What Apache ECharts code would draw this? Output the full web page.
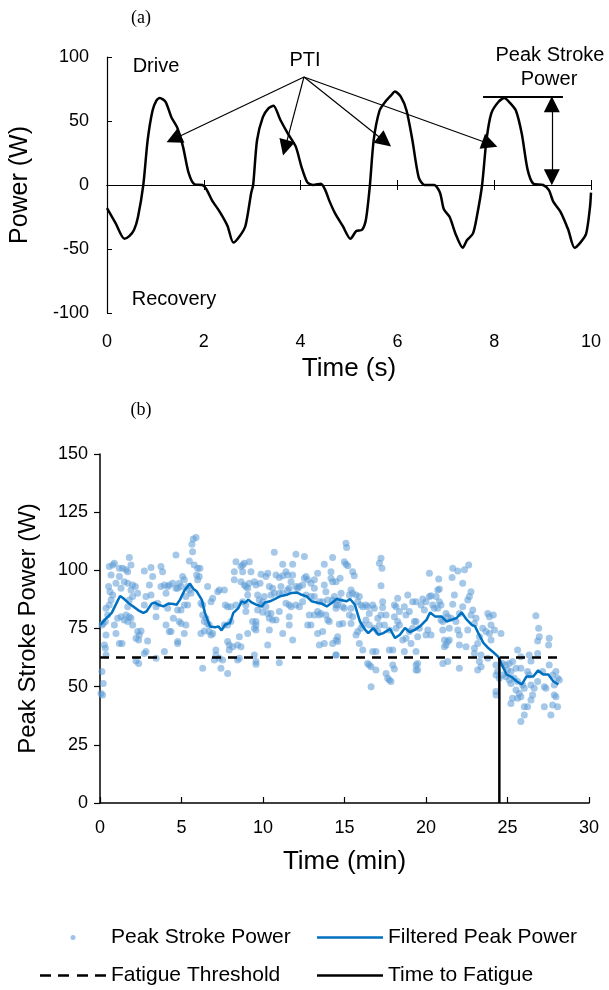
<!DOCTYPE html>
<html>
<head>
<meta charset="utf-8">
<script src="https://cdn.jsdelivr.net/npm/echarts@6/dist/echarts.min.js"></script>
<style>
  html, body { margin: 0; padding: 0; background: #fff; }
  #chart { width: 609px; height: 990px; }
</style>
</head>
<body>
<div id="chart"></div>
<script>
// (a) instantaneous power trace, [time s, power W]
var powerWave = [
  [0,-18],[0.18,-30],[0.36,-42],[0.46,-40],[0.56,-35],[0.64,-25],[0.75,0],[0.84,35],[0.94,58],[1.02,66],
  [1.09,68],[1.21,65],[1.33,53],[1.45,45],[1.57,30],[1.69,9],[1.81,0.5],[1.97,0],[2.05,-3],[2.17,-12],
  [2.33,-21],[2.49,-32],[2.61,-45],[2.74,-40],[2.86,-32],[2.98,-6],[3.02,0],[3.10,35],[3.22,53],[3.34,60],
  [3.44,62],[3.58,51],[3.74,40],[3.90,30],[4.02,14],[4.14,2],[4.26,0],[4.42,1],[4.51,-4],[4.59,-12],
  [4.71,-22],[4.87,-32],[5.03,-42],[5.15,-36],[5.27,-35],[5.35,-27],[5.43,-1],[5.51,35],[5.63,58],[5.75,65],
  [5.87,70],[5.95,73],[6.07,69],[6.19,58],[6.31,35],[6.44,6],[6.56,0],[6.76,0],[6.88,-6],[6.96,-19],
  [7.08,-25],[7.20,-38],[7.35,-49],[7.44,-43],[7.56,-38],[7.64,-25],[7.75,0],[7.84,35],[7.94,56],[8.09,65],
  [8.21,68],[8.33,64],[8.45,58],[8.57,40],[8.69,12],[8.81,1],[9.01,0],[9.13,-4],[9.22,-13],[9.37,-21],
  [9.53,-35],[9.66,-49],[9.78,-45],[9.90,-38],[9.98,-17],[10,-6]
];

// (b) peak stroke power per stroke, [time min, power W]
var strokes0 = [
  [0.12,76.5],[0.20,77.2],[0.33,78.0],[0.47,80.8],[0.37,83.7],[0.57,85.1],[0.68,87.3],[0.78,89.4],[0.53,93.0],[0.61,90.8],
  [0.68,98.0],[0.57,101.6],[0.78,102.3],[0.88,103.0],[1.19,100.9],[1.19,97.3],[0.98,94.4],[1.29,92.3],[1.39,100.9],[1.60,100.2],
  [1.70,99.4],[1.80,105.5],[1.90,102.3],[1.49,95.1],[1.70,94.4],[2.00,93.7],[1.90,91.6],[2.17,93.0],[2.31,90.1],[2.00,88.7],
  [1.80,87.3],[1.70,84.4],[1.60,80.8],[1.49,78.7],[1.70,78.0],[1.80,80.1],[1.90,79.4],[1.29,80.1],[1.08,79.4],[0.88,76.5],
  [0.98,72.9],[0.37,72.2],[0.27,67.9],[0.33,66.5],[0.37,63.6],[1.19,68.6],[1.35,68.6],[2.00,76.5],[2.31,73.7],[2.41,72.2],
  [2.52,73.9],[2.21,70.8],[2.37,70.1],[2.92,69.6],[2.82,65.1],[2.72,64.3],[2.21,61.0],[2.37,60.0],[2.72,85.1],[2.82,88.7],
  [3.13,89.4],[3.03,93.7],[3.13,101.2],[2.72,99.7],[3.23,97.3],[3.44,84.4],[3.54,85.8],[3.44,80.1],[3.74,101.6],[3.84,99.4],
  [3.74,93.0],[3.95,93.7],[4.05,90.1],[4.15,93.0],[4.25,93.7],[4.46,94.4],[4.66,92.3],[4.66,106.6],[4.15,83.7],[4.05,76.5],
  [4.25,73.7],[4.36,73.7],[4.50,79.4],[3.95,65.1],[3.44,62.2],[4.77,69.4],[0.12,56.5],[0.20,51.4],[0.16,46.4],[0.06,47.1]
];
var strokes5 = [
  [5.89,114.1],[5.72,113.5],[5.64,111.2],[5.68,108.0],[5.48,104.0],[5.78,102.3],[5.99,100.9],[6.13,100.9],[5.93,98.0],[6.09,97.3],
  [5.99,95.9],[5.07,97.3],[5.17,95.9],[4.86,94.4],[4.76,92.3],[4.97,93.0],[5.38,93.0],[5.58,90.1],[5.48,91.6],[5.27,88.7],
  [5.17,85.1],[5.38,85.1],[4.97,83.0],[4.76,83.0],[4.86,78.0],[4.97,77.2],[5.27,76.5],[5.17,72.9],[4.76,68.6],[6.19,85.8],
  [6.30,85.1],[6.30,80.8],[6.40,78.0],[6.50,79.4],[6.60,77.2],[6.70,76.5],[6.60,93.0],[6.81,86.5],[6.91,88.0],[6.70,73.7],
  [6.81,72.2],[6.91,72.9],[6.40,73.9],[6.19,72.9],[7.32,91.6],[7.22,90.8],[7.63,91.6],[7.69,85.1],[7.83,84.4],[8.03,84.4],
  [8.03,78.0],[7.83,76.5],[7.63,76.5],[7.83,69.4],[7.93,67.9],[7.93,65.8],[8.14,67.2],[7.11,65.8],[7.11,63.6],[7.01,61.5],
  [7.32,62.2],[7.52,61.5],[7.42,57.9],[7.83,55.7],[6.30,57.9],[8.44,67.9],[8.65,67.2],[8.55,71.5],[8.44,61.5],[8.34,103.7],
  [8.24,99.4],[8.24,95.9],[8.65,101.6],[8.75,102.3],[8.85,103.0],[9.16,103.7],[9.26,99.4],[8.75,99.4],[8.65,95.1],[8.85,93.7],
  [8.95,93.0],[9.06,92.3],[9.16,94.4],[9.47,95.1],[9.57,93.7],[9.06,89.4],[8.95,85.1],[8.95,82.3],[9.36,78.0],[9.47,75.1],
  [9.57,76.5],[9.06,72.9],[9.47,63.6],[9.57,60.8],[8.55,62.2],[8.34,85.1],[8.75,86.5]
];
var strokes10 = [
  [10.69,107.8],[12.02,106.9],[12.54,105.9],[11.21,102.6],[11.82,102.6],[11.41,99.4],[11.51,98.0],[11.21,97.7],[11.00,96.9],[10.80,98.0],
  [10.29,98.7],[10.18,97.3],[9.88,98.3],[9.82,94.4],[10.39,93.0],[10.59,92.3],[10.69,90.1],[10.49,89.4],[10.08,88.7],[9.67,89.4],
  [9.77,87.3],[9.98,86.5],[9.88,85.1],[10.18,84.4],[9.67,83.0],[9.98,82.0],[10.29,81.5],[10.49,81.5],[10.39,79.4],[10.59,78.7],
  [10.80,78.7],[11.00,82.3],[11.00,90.1],[11.21,90.1],[11.10,93.0],[11.51,91.6],[11.61,92.3],[11.72,95.1],[11.82,98.0],[12.02,93.0],
  [12.13,92.3],[12.23,93.0],[12.43,93.7],[12.54,96.6],[12.64,97.3],[12.74,95.9],[12.94,94.4],[13.15,95.9],[13.15,92.3],[13.35,98.7],
  [13.76,102.6],[14.27,105.5],[14.17,99.4],[14.17,96.6],[14.27,95.1],[13.76,93.7],[13.86,90.8],[13.97,87.3],[13.66,86.5],[13.46,86.5],
  [13.15,88.7],[12.94,88.7],[12.64,89.4],[12.43,86.5],[12.23,84.4],[12.02,85.1],[11.61,85.1],[11.41,85.8],[11.72,84.4],[11.61,80.1],
  [11.61,76.5],[11.82,70.1],[11.21,72.9],[10.39,74.4],[10.29,67.9],[9.57,78.0],[9.57,74.4],[13.35,82.3],[13.15,80.8],[12.84,80.8],
  [12.94,76.5],[12.74,76.5],[13.46,80.8],[13.56,81.5],[13.86,80.8],[13.97,78.7],[14.07,78.0],[13.35,72.9],[13.66,73.7],[13.46,67.9],
  [13.76,68.6],[14.27,68.6],[14.48,70.1],[14.48,63.6],[11.00,60.3],[9.57,59.6],[14.27,87.3],[14.48,85.1],[14.38,88.7]
];
var strokes15 = [
  [15.09,111.6],[15.13,109.8],[14.99,103.7],[15.09,102.6],[15.20,102.0],[14.73,96.6],[14.48,95.1],[15.50,99.4],[15.60,97.7],[17.24,105.2],
  [17.14,103.0],[17.30,100.9],[17.24,93.4],[15.40,91.6],[15.50,90.1],[15.30,89.4],[15.71,89.4],[15.91,88.7],[14.79,90.1],[14.68,87.3],
  [14.58,85.1],[14.48,83.7],[14.89,84.4],[14.99,83.7],[15.40,83.7],[15.30,80.8],[15.50,80.1],[15.40,77.2],[14.89,77.2],[14.68,76.8],
  [15.81,86.5],[16.01,85.1],[16.12,84.4],[16.32,85.1],[16.42,84.4],[16.73,85.1],[16.83,83.7],[16.52,81.5],[16.32,78.7],[16.12,76.5],
  [16.01,75.1],[15.81,73.7],[15.71,72.2],[15.91,68.6],[16.12,65.8],[16.52,76.5],[16.83,75.1],[17.04,73.7],[17.34,86.5],[17.34,84.0],
  [17.24,80.8],[17.04,79.4],[17.14,76.5],[17.55,80.8],[17.45,76.5],[17.75,74.4],[18.06,85.1],[18.16,84.4],[18.26,88.0],[18.37,82.3],
  [18.06,80.1],[18.26,78.0],[18.37,76.5],[18.16,75.1],[18.67,84.4],[18.88,89.4],[18.77,80.8],[18.98,82.3],[19.18,86.5],[19.29,78.0],
  [19.18,75.1],[18.98,73.7],[18.77,70.8],[18.57,70.1],[18.67,65.1],[19.08,68.6],[17.75,65.8],[17.96,65.8],[17.55,55.7],[17.65,53.6],
  [17.75,52.9],[17.85,52.2],[18.06,57.6],[17.96,59.3],[16.93,65.1],[16.73,65.1],[16.93,57.2],[16.63,58.6],[16.52,59.3],[16.42,60.0],
  [16.63,50.0],[19.39,59.3],[19.39,57.2],[14.58,71.5],[14.58,69.4],[14.48,63.6]
];
var strokes20 = [
  [20.21,98.7],[20.78,96.3],[21.64,100.9],[21.95,99.7],[22.36,100.2],[22.62,102.3],[21.60,96.9],[22.25,94.4],[20.72,91.6],[20.82,92.0],
  [20.62,88.7],[20.31,89.1],[20.21,88.7],[19.80,87.7],[19.70,85.1],[19.90,83.0],[20.00,86.5],[20.41,85.1],[20.51,83.7],[20.82,86.5],
  [20.92,85.1],[20.72,83.7],[21.74,89.4],[21.64,85.4],[22.25,84.4],[22.56,87.3],[22.66,88.7],[22.76,90.8],[22.87,83.0],[22.76,80.8],
  [23.07,79.4],[22.97,77.2],[19.39,86.5],[19.39,78.0],[19.59,75.1],[19.49,71.5],[20.11,74.4],[20.00,72.2],[20.31,72.2],[20.92,78.7],
  [21.03,78.0],[21.23,81.5],[21.33,80.1],[21.54,79.4],[21.84,78.0],[22.05,81.5],[21.95,74.4],[22.05,72.2],[21.43,75.1],[21.03,74.4],
  [21.13,70.1],[21.33,69.4],[21.43,70.1],[21.23,67.9],[21.13,67.2],[22.05,67.9],[22.46,67.2],[22.56,74.4],[23.48,75.1],[23.68,73.7],
  [23.79,81.5],[23.89,80.1],[23.99,76.5],[23.89,72.9],[23.99,70.1],[24.20,74.4],[23.28,71.5],[23.17,68.6],[22.97,66.5],[23.38,63.6],
  [23.28,60.8],[23.79,62.2],[22.97,64.3],[23.17,57.2],[23.38,58.6],[19.39,65.1],[19.49,60.0],[19.49,57.2],[21.03,60.0],[21.33,60.8],
  [22.05,57.9],[24.30,55.0],[24.30,46.4],[24.13,80.8]
];
var strokes25 = [
  [26.74,80.5],[26.91,75.1],[26.95,71.5],[26.85,69.6],[27.56,70.8],[27.52,67.9],[24.60,72.9],[25.62,65.8],[25.82,62.9],[26.33,63.6],
  [26.85,64.3],[26.44,61.0],[24.29,59.3],[24.39,56.5],[24.70,60.0],[24.90,59.3],[25.11,60.0],[25.31,60.8],[25.01,57.2],[24.70,55.0],
  [24.90,54.3],[25.21,56.5],[25.52,57.9],[25.82,57.9],[25.41,53.6],[25.11,52.9],[25.21,51.4],[25.62,52.2],[25.93,50.7],[26.03,49.3],
  [26.23,56.5],[26.33,55.0],[26.44,50.7],[26.64,49.3],[26.85,52.2],[27.15,56.5],[27.26,50.0],[27.36,49.3],[27.56,59.3],[27.77,55.0],
  [27.97,56.5],[27.87,50.7],[28.07,53.6],[28.18,52.9],[25.52,48.6],[25.72,47.1],[25.82,45.7],[25.62,45.0],[25.31,45.0],[25.21,42.8],
  [26.54,46.4],[26.44,44.3],[26.03,41.4],[26.23,41.4],[26.03,37.8],[27.26,41.4],[27.66,37.8],[27.87,46.4],[27.77,42.1],[27.97,45.7],
  [28.07,41.4],[25.82,35.0],[24.29,47.9],[24.49,53.6]
];
var peakStrokes = strokes0.concat(strokes5, strokes10, strokes15, strokes20, strokes25);

// filtered peak power, [time min, power W]
var filteredPower = [
  [0.04,76.6],[0.30,78.8],[0.72,81.7],[1.02,86.0],[1.23,89.0],[1.43,88.0],[1.74,86.0],[2.04,84.5],[2.35,82.8],[2.66,81.7],
  [2.86,82.4],[3.17,85.7],[3.37,86.2],[3.58,85.2],[3.89,84.5],[4.19,85.7],[4.50,85.5],[4.70,85.2],[4.91,87.4],[5.21,91.7],
  [5.52,94.3],[5.73,92.0],[5.93,91.0],[6.24,87.4],[6.44,81.7],[6.75,75.9],[7.06,75.5],[7.26,75.9],[7.46,74.2],[7.67,76.6],
  [7.98,77.4],[8.18,81.7],[8.49,83.8],[8.69,86.7],[8.90,86.0],[9.10,87.4],[9.30,86.2],[9.61,85.2],[9.92,84.5],[10.12,86.2],
  [10.43,86.7],[10.74,87.7],[11.04,88.8],[11.45,89.5],[11.76,90.3],[12.07,90.5],[12.37,89.5],[12.68,88.8],[12.99,86.7],[13.29,86.2],
  [13.60,85.7],[13.91,84.5],[14.21,86.0],[14.52,87.7],[14.83,87.1],[15.13,86.7],[15.34,87.7],[15.64,85.2],[15.95,78.0],[16.26,74.5],
  [16.46,73.0],[16.77,75.2],[17.08,72.3],[17.38,73.0],[17.79,74.8],[18.10,70.9],[18.40,72.3],[18.71,75.2],[19.02,73.4],[19.33,74.5],
  [19.63,75.9],[20.04,78.8],[20.25,81.9],[20.55,80.2],[20.96,80.2],[21.27,78.0],[21.58,78.8],[21.88,79.5],[22.19,81.9],[22.50,78.8],
  [22.81,76.6],[23.01,75.9],[23.21,73.0],[23.52,68.8],[23.82,66.6],[24.13,64.8],[24.44,62.8],[24.70,58.7],[24.95,55.2],[25.25,54.2],
  [25.56,52.3],[25.87,50.9],[26.17,54.4],[26.58,54.4],[26.88,57.0],[27.19,55.2],[27.50,55.2],[27.81,52.3],[28.12,50.9]
];

var fatigueThreshold = [[0, 62.5], [28.2, 62.5]];
var timeToFatigue = [[24.5, 62.5], [24.5, 0]];

var FONT = "'Liberation Sans', Arial, Helvetica, sans-serif";
// legend icons: path bbox padded with moveTo points so the mark keeps its size
var dotIcon = 'path://M0,0M66,14M30.5,7a2.5,2.5 0 1,0 5,0a2.5,2.5 0 1,0 -5,0';
var solidIcon = 'path://M0,0M66,14M0,5.8H66V8.2H0Z';
var dashIcon = 'path://M0,0M66,14M0,5.8H11V8.2H0ZM18,5.8H29V8.2H18ZM37,5.8H48V8.2H37ZM55,5.8H66V8.2H55Z';

function txt(x, y, s, size, family) {
  return {
    type: 'text', x: x, y: y, silent: true,
    style: { text: s, fill: '#000', font: size + 'px ' + (family || FONT), align: 'center', verticalAlign: 'middle' }
  };
}

function legendAt(left, top, item) {
  return {
    left: left, top: top, itemWidth: 66, itemHeight: 14, selectedMode: false,
    textStyle: { fontSize: 21, color: '#000' },
    data: [item]
  };
}

var myChart = echarts.init(document.getElementById('chart'), null, { renderer: 'canvas' });

var option = {
  animation: false,
  backgroundColor: '#fff',
  textStyle: { fontFamily: FONT, color: '#000' },
  grid: [
    { left: 107, top: 57, width: 484, height: 256 },
    { left: 100, top: 454, width: 489, height: 349 }
  ],
  xAxis: [
    {
      gridIndex: 0, type: 'value', min: 0, max: 10, interval: 2, position: 'bottom',
      axisLine: { show: false, onZero: false }, axisTick: { show: false }, splitLine: { show: false },
      axisLabel: { fontSize: 18, color: '#000', margin: 20 },
      name: 'Time (s)', nameLocation: 'middle', nameGap: 43,
      nameTextStyle: { fontSize: 26, color: '#000' }
    },
    {
      gridIndex: 0, type: 'value', min: 0, max: 10, interval: 2, position: 'bottom',
      axisLine: { show: true, onZero: true, onZeroAxisIndex: 0, lineStyle: { color: '#000', width: 1.2 } },
      axisTick: { show: true, length: 5, lineStyle: { color: '#000' } },
      axisLabel: { show: false }, splitLine: { show: false }
    },
    {
      gridIndex: 0, type: 'value', min: 0, max: 10, interval: 2, position: 'top',
      axisLine: { show: true, onZero: true, onZeroAxisIndex: 0, lineStyle: { color: '#000', width: 1.2 } },
      axisTick: { show: true, length: 5, lineStyle: { color: '#000' } },
      axisLabel: { show: false }, splitLine: { show: false }
    },
    {
      gridIndex: 1, type: 'value', min: 0, max: 30, interval: 5,
      axisLine: { show: true, onZero: false, lineStyle: { color: '#000', width: 1.5 } },
      axisTick: { show: true, inside: true, length: 6, lineStyle: { color: '#000', width: 1.2 } },
      axisLabel: { fontSize: 18, color: '#000', margin: 16 },
      splitLine: { show: false },
      name: 'Time (min)', nameLocation: 'middle', nameGap: 46,
      nameTextStyle: { fontSize: 26, color: '#000' }
    }
  ],
  yAxis: [
    {
      gridIndex: 0, type: 'value', min: -100, max: 100, interval: 50,
      axisLine: { show: true, lineStyle: { color: '#000', width: 1.2 } },
      axisTick: { show: true, inside: true, length: 5, lineStyle: { color: '#000' } },
      axisLabel: { fontSize: 18, color: '#000', margin: 18 },
      splitLine: { show: false },
      name: 'Power (W)', nameLocation: 'middle', nameGap: 74,
      nameTextStyle: { fontSize: 25, color: '#000' }
    },
    {
      gridIndex: 1, type: 'value', min: 0, max: 150, interval: 25,
      axisLine: { show: true, lineStyle: { color: '#000', width: 1.5 } },
      axisTick: { show: true, length: 6, lineStyle: { color: '#000', width: 1.2 } },
      axisLabel: { fontSize: 18, color: '#000', margin: 12 },
      splitLine: { show: false },
      name: 'Peak Stroke Power (W)', nameLocation: 'middle', nameGap: 60,
      nameTextStyle: { fontSize: 24, color: '#000' }
    }
  ],
  legend: [
    legendAt(35, 922, { name: 'Peak Stroke Power', icon: dotIcon, itemStyle: { color: '#9dc3e6', opacity: 1 } }),
    legendAt(312, 922, { name: 'Filtered Peak Power', icon: solidIcon, itemStyle: { color: '#0070c0' } }),
    legendAt(35, 960, { name: 'Fatigue Threshold', icon: dashIcon, itemStyle: { color: '#000' } }),
    legendAt(312, 960, { name: 'Time to Fatigue', icon: solidIcon, itemStyle: { color: '#000' } })
  ],
  series: [
    {
      name: 'Power trace', type: 'line', xAxisIndex: 0, yAxisIndex: 0,
      data: powerWave, smooth: 0.25, showSymbol: false, symbol: 'none',
      lineStyle: { color: '#000', width: 2.5 }, z: 3,
      markLine: {
        silent: true, symbol: ['none', 'triangle'], symbolSize: 16,
        label: { show: false },
        lineStyle: { color: '#000', width: 1.2, type: 'solid' },
        data: [
          [{ coord: [4.07, 84.4] }, { coord: [1.38, 36] }],
          [{ coord: [4.07, 84.4] }, { coord: [3.68, 29] }],
          [{ coord: [4.07, 84.4] }, { coord: [5.74, 34] }],
          [{ coord: [4.07, 84.4] }, { coord: [7.91, 32] }],
          [{ coord: [7.77, 68.75], symbol: 'none' }, { coord: [9.42, 68.75], symbol: 'none', lineStyle: { width: 2 } }],
          [{ coord: [9.19, 63], symbol: 'triangle' }, { coord: [9.19, 6], symbol: 'triangle' }]
        ]
      }
    },
    {
      name: 'Peak Stroke Power', type: 'scatter', xAxisIndex: 3, yAxisIndex: 1,
      data: peakStrokes, symbolSize: 7,
      itemStyle: { color: '#5b9bd5', opacity: 0.55 }, z: 2
    },
    {
      name: 'Filtered Peak Power', type: 'line', xAxisIndex: 3, yAxisIndex: 1,
      data: filteredPower, showSymbol: false, symbol: 'none',
      lineStyle: { color: '#0070c0', width: 2.5 }, itemStyle: { color: '#0070c0' }, z: 4
    },
    {
      name: 'Fatigue Threshold', type: 'line', xAxisIndex: 3, yAxisIndex: 1,
      data: fatigueThreshold, showSymbol: false, symbol: 'none',
      lineStyle: { color: '#000', width: 2.5, type: [9, 7] }, itemStyle: { color: '#000' }, z: 3
    },
    {
      name: 'Time to Fatigue', type: 'line', xAxisIndex: 3, yAxisIndex: 1,
      data: timeToFatigue, showSymbol: false, symbol: 'none',
      lineStyle: { color: '#000', width: 2.5 }, itemStyle: { color: '#000' }, z: 5
    }
  ],
  graphic: [
    txt(141, 18, '(a)', 18, "'Liberation Serif', 'Times New Roman', serif"),
    txt(141, 410, '(b)', 18, "'Liberation Serif', 'Times New Roman', serif"),
    txt(156, 66, 'Drive', 20),
    txt(305, 60, 'PTI', 20),
    txt(174, 299, 'Recovery', 20),
    txt(550, 55, 'Peak Stroke', 20),
    txt(549, 79, 'Power', 20)
  ]
};

myChart.setOption(option);
</script>
</body>
</html>
